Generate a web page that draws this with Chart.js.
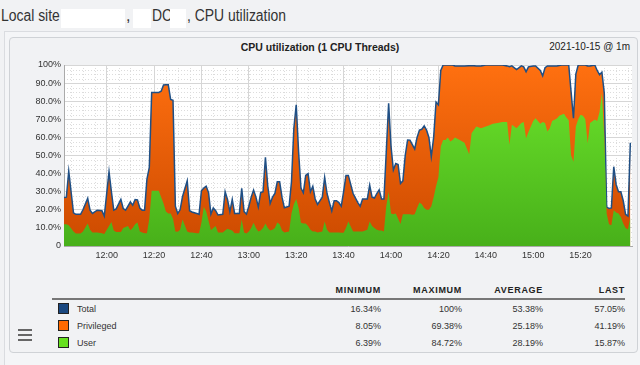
<!DOCTYPE html>
<html>
<head>
<meta charset="utf-8">
<script src="https://cdn.jsdelivr.net/npm/chart.js@4.4.1/dist/chart.umd.min.js"></script>
<style>
  body { margin:0; width:640px; height:365px; background:#f1f2f4; font-family:"Liberation Sans", Arial, sans-serif; color:#333; position:relative; overflow:hidden; }
  .abs { position:absolute; white-space:nowrap; }
  #pageTitle { left:1px; top:7px; font-size:16px; transform:scaleX(0.87); transform-origin:left; }
  .redact { position:absolute; background:#fff; top:9px; height:19px; }
  #outer { position:absolute; left:4px; top:31px; width:640px; height:340px; border-left:1px solid #dadce0; border-top:1px solid #dadce0; background:#f4f5f7; }
  #panel { position:absolute; left:9px; top:37px; width:627px; height:314px; border:1px solid #cfd2d6; border-radius:4px; background:#f1f2f4; }
  #chartTitle { left:0; width:640px; text-align:center; top:41px; font-size:10.5px; font-weight:bold; color:#222; }
  #chartDate { right:10px; top:41px; font-size:10px; color:#222; }
  #wrap { position:absolute; left:10px; top:55px; width:628px; height:215px; }
  table { position:absolute; left:52px; top:283px; width:573px; table-layout:fixed; border-collapse:collapse; font-size:9px; color:#333; }
  th { font-size:9px; font-weight:bold; letter-spacing:0.7px; color:#222; text-align:right; padding:0 0 2px 0; border-bottom:2px solid #777; height:13px; }
  td { height:17px; padding:0; text-align:right; }
  td.name { text-align:left; padding-left:6px; }
  .sw { display:inline-block; width:9px; height:9px; border:1px solid #222; vertical-align:-2px; margin-right:8px; }
  #burger { position:absolute; left:18px; top:329px; width:14px; }
  #burger div { height:2px; background:#666; margin-bottom:3px; }
</style>
</head>
<body>
<div id="outer"></div>
<div class="abs" id="pageTitle">Local site</div>
<div class="redact" style="left:61px;width:64px"></div>
<div class="abs" style="left:126px;top:7px;font-size:16px">,</div>
<div class="redact" style="left:133px;width:18px"></div>
<div class="abs" style="left:152px;top:7px;font-size:16px;transform:scaleX(0.87);transform-origin:left">DC</div>
<div class="redact" style="left:170px;width:16px"></div>
<div class="abs" style="left:187px;top:7px;font-size:16px;transform:scaleX(0.87);transform-origin:left">, CPU utilization</div>
<div id="panel"></div>
<div class="abs" id="chartTitle">CPU utilization (1 CPU Threads)</div>
<div class="abs" id="chartDate">2021-10-15 @ 1m</div>
<div id="wrap"><canvas id="cpuChart" width="628" height="215"></canvas></div>
<table>
  <colgroup><col style="width:248px"><col style="width:81px"><col style="width:81px"><col style="width:81px"><col style="width:82px"></colgroup>
  <tr><th style="text-align:left"></th><th>MINIMUM</th><th>MAXIMUM</th><th>AVERAGE</th><th>LAST</th></tr>
  <tr><td class="name"><span class="sw" style="background:#1a4880"></span>Total</td><td>16.34%</td><td>100%</td><td>53.38%</td><td>57.05%</td></tr>
  <tr><td class="name"><span class="sw" style="background:#ff6a00"></span>Privileged</td><td>8.05%</td><td>69.38%</td><td>25.18%</td><td>41.19%</td></tr>
  <tr><td class="name"><span class="sw" style="background:#66e020"></span>User</td><td>6.39%</td><td>84.72%</td><td>28.19%</td><td>15.87%</td></tr>
</table>
<div id="burger"><div></div><div></div><div></div></div>
<script>
// minutes after 11:42 (1m samples)
const minutes = [0,1,2,4,5,7,8,10,11,12,14,16,17,19,20,21,22,24,25,26,27,28,29,30,31,32,33,34,35,36,37,40,41,42,43,44,45,46,47,48,49,50,52,53,54,56,57,58,59,60,61,62,63,64,65,67,68,69,70,71,72,74,75,76,77,78,
  79,80,81,82,83,84,85,86,87,88,89,90,91,92,93,95,96,97,98,99,100,101,102,103,104,105,106,107,109,110,111,112,113,114,115,116,117,118,119,120,122,124,125,126,128,129,130,131,132,133,134,135,136,137,138,139,140,141,142,143,144,145,146,147,148,149,150,151,152,153,154,155,156,157,158,159,160,
  161,162,163,164,165,167,169,171,172,174,176,178,179,181,183,185,187,188,189,191,193,194,195,196,198,199,201,202,203,204,205,206,208,209,210,211,212,213,214,215,216,217,218,219,220,221,222,224,225,226,227,228,229,230,231,232,233,234,235,236,237,238,239];
const totalValues = [26.8,27,41.4,18.3,17.5,17.5,20,26.3,19.8,18,19.8,19.5,16.5,41,30,19.8,20.5,25.7,20.7,19.8,22,24.4,22.5,25.7,25.5,21,19.8,19.8,37,43.4,84.8,84.8,85.5,89,89.1,89.1,81,80.5,22,18,20,27.2,36,19.5,18.8,18,17.5,30.5,32,33,29.5,17.6,21,19.5,17.1,17.5,30,25.7,19,25.7,18,18,31.8,19,17.6,22,
  27,30.9,27,21.6,29.5,30,49,33,23.5,27,29,35.5,35.5,27,21.1,22,35.5,65,78,52,32,29.4,39,40,30,33,26,23,27,37.9,29,24,19.4,25,25,24,22,30,39,39,29,24,22,26,26,33.6,27,26.5,29,31,26,26,52,78.9,55,42,45.6,45,34.5,36,50,58.6,58.5,56,53.6,60,64.1,64.5,66.4,64,60,49.4,60,79.5,78,97,100,
  100,100,100,100,99.5,99.5,99.5,99.6,99.7,99.5,99.5,100,100,100,100,100,99.5,99,99.5,97.5,99.5,99,96.3,99,99.5,99.5,97,94,98.5,99.5,99.5,99.5,99.5,99.7,100,100,100,100,85,70.6,95,100,100,100,100,99.5,99.5,100,97,94.6,96,84.5,21.6,20.7,21,43.8,34,30,30,25,17.5,16.5,57.05];
const userValues = [12,12,11.5,8,6.9,6.9,8,12.4,9,7.4,7.4,7,6.6,11,13.3,8.5,7.8,7.8,10,10.5,11,8.7,10,12,13,8,7.4,7,7,15,30.5,30.5,27,23.5,19,18,18,15,8,7.9,9,14.6,8,7.4,7.4,7,7,13,21.6,19,14,8.7,10,11,7.5,7.5,8.5,9.5,9,8.5,7,7,14.6,7.5,6.9,8,
  10,12.8,10,8,8.5,10,12.4,10,8.5,9,10,13,12,8.5,7.5,8,18,23,26,21,12.8,12.4,12.4,11,9,8,8,7.5,8,13.5,9,7.5,7.5,7.5,7.5,7.5,7.3,7.3,10,13.5,8,8,8,8,9,13.5,11,10,9,8.5,8.5,8,22,30,18,17.5,18,15,12.2,17.5,17.5,17.5,17.5,17.3,17.5,21,24,23,21,20,20,22,27,33,38,55,58.6,
  58.6,60,57.7,58.6,60,58.6,57,50.7,62.3,66,65,66,66.5,67.5,68,68.5,68.5,56,67,65,68,68.5,59.5,63,69,70.6,67.5,68.5,68,63.2,65,69,70.5,71.9,72.5,73,71,69.5,50,46.6,66,70,72.5,72,70,56.8,68,69.9,69,74,84.5,60,18,12,11.5,19.8,18.5,18,16,12.5,10,9.1,15.87];
const xTickMinutes = [18,38,58,78,98,118,138,158,178,198,218];
const xTickLabels = ['12:00','12:20','12:40','13:00','13:20','13:40','14:00','14:20','14:40','15:00','15:20'];

function vGrad(c, top, bottom) {
    const area = c.chart.chartArea;
    if (!area) return top;
    const g = c.chart.ctx.createLinearGradient(0, area.top, 0, area.bottom);
    g.addColorStop(0, top);
    g.addColorStop(1, bottom);
    return g;
}

// dotted minor grid + white plot background
const minorGrid = {
    id: 'minorGrid',
    beforeDraw(chart) {
        const {ctx, chartArea: a, scales: {x, y}} = chart;
        ctx.save();
        ctx.fillStyle = '#ffffff';
        ctx.fillRect(a.left, a.top, a.right - a.left, a.bottom - a.top);
        ctx.strokeStyle = '#dcdcdc';
        ctx.lineWidth = 1;
        ctx.setLineDash([1, 2]);
        ctx.beginPath();
        for (let v = 2.5; v < 100; v += 2.5) {
            if (v % 10 === 0) continue;
            const py = Math.round(y.getPixelForValue(v)) + 0.5;
            ctx.moveTo(a.left, py); ctx.lineTo(a.right, py);
        }
        for (let m = 3; m < 240; m += 5) {
            const px = Math.round(x.getPixelForValue(m)) + 0.5;
            ctx.moveTo(px, a.top); ctx.lineTo(px, a.bottom);
        }
        ctx.stroke();
        ctx.restore();
    }
};

const ctx = document.getElementById('cpuChart').getContext('2d');
new Chart(ctx, {
    type: 'line',
    data: {
        datasets: [{
            label: 'User',
            data: minutes.map((m, i) => ({x: m, y: userValues[i]})),
            fill: 'origin',
            backgroundColor: c => vGrad(c, '#6ee62c', '#48b01a'),
            borderWidth: 0,
            pointRadius: 0,
            tension: 0
        }, {
            label: 'Total',
            data: minutes.map((m, i) => ({x: m, y: totalValues[i]})),
            fill: 'origin',
            backgroundColor: c => vGrad(c, '#ff7010', '#cc4a00'),
            borderColor: '#1f4f85',
            borderWidth: 1.5,
            pointRadius: 0,
            tension: 0
        }]
    },
    options: {
        responsive: false,
        animation: false,
        layout: {padding: {top: 10, right: 6, left: 0, bottom: 0}},
        plugins: {legend: {display: false}, tooltip: {enabled: false}},
        scales: {
            x: {
                type: 'linear', min: 0, max: 239.7,
                afterBuildTicks: s => { s.ticks = xTickMinutes.map(v => ({value: v})); },
                afterFit: s => { s.height = 24; },
                ticks: {autoSkip: false, maxRotation: 0, padding: 4, color: '#333', font: {family: 'Liberation Sans', size: 9},
                        callback: (v, i) => xTickLabels[i]},
                grid: {color: '#d6d6d6', drawTicks: false},
                border: {color: '#aaa'}
            },
            y: {
                min: 0, max: 100,
                afterFit: s => { s.width = 54; },
                ticks: {stepSize: 10, padding: 3, color: '#333', font: {family: 'Liberation Sans', size: 9},
                        callback: v => v === 0 ? '0' : v === 100 ? '100%' : v.toFixed(1) + '%'},
                grid: {color: '#d6d6d6', drawTicks: false},
                border: {color: '#aaa'}
            }
        }
    },
    plugins: [minorGrid]
});
</script>
</body>
</html>
